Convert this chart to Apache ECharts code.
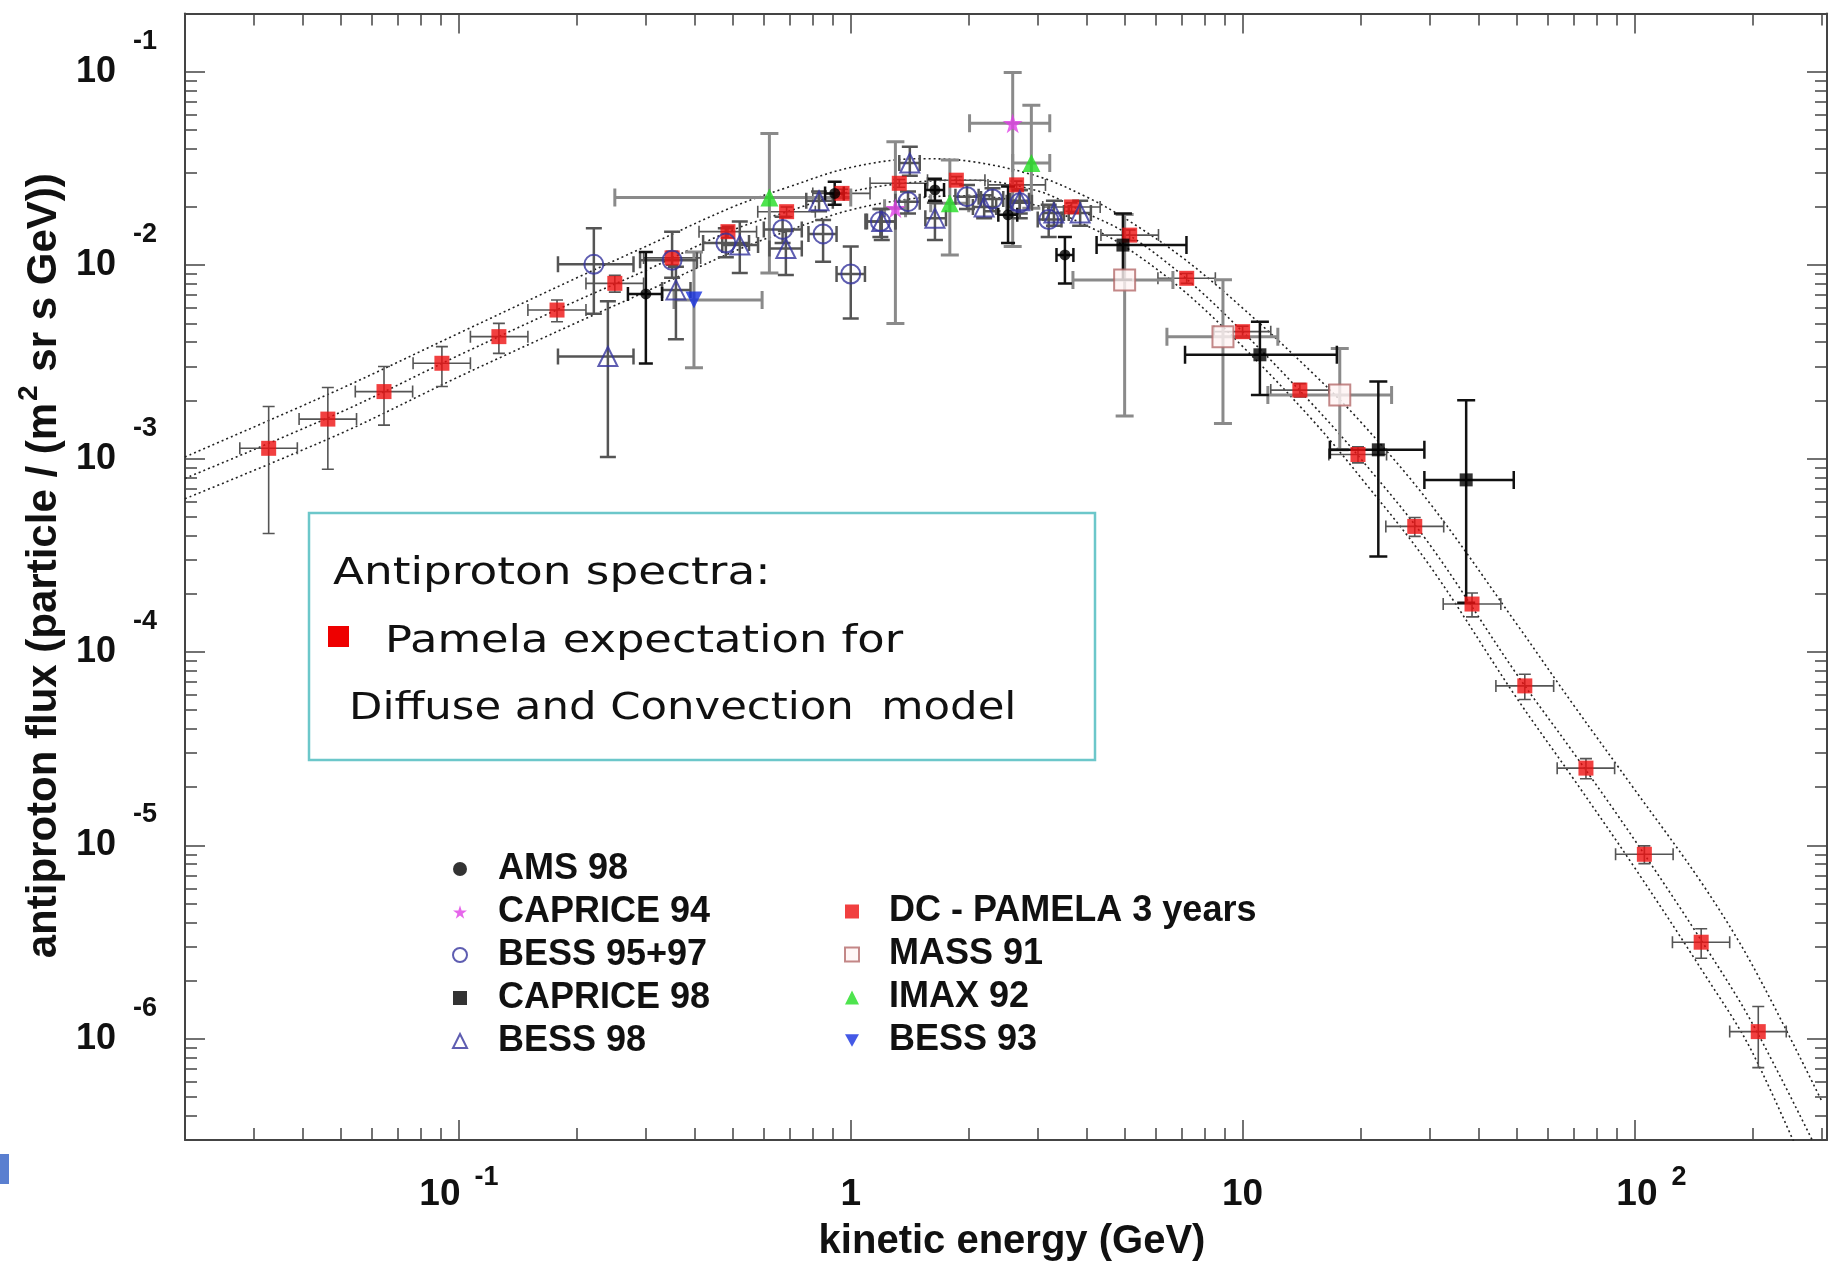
<!DOCTYPE html>
<html>
<head>
<meta charset="utf-8">
<script src="https://cdn.jsdelivr.net/npm/echarts@6/dist/echarts.min.js"></script>
<style>
html,body{margin:0;padding:0;background:#ffffff;}
#chart{width:1839px;height:1263px;}
</style>
</head>
<body>
<div id="chart"></div>
<script>
// ---------------- DATA ----------------
// rows: [E, flux, E_low, E_high, flux_low, flux_high]
const pamela = [
  [0.0327, 1.13e-3, 0.0276, 0.0387, 4.1e-4, 1.86e-3],
  [0.0463, 1.60e-3, 0.0391, 0.0548, 8.8e-4, 2.33e-3],
  [0.0644, 2.22e-3, 0.0544, 0.0762, 1.49e-3, 2.99e-3],
  [0.0905, 3.11e-3, 0.0764, 0.107, 2.36e-3, 3.79e-3],
  [0.1265, 4.27e-3, 0.107, 0.150, 3.5e-3, 5.0e-3],
  [0.178, 5.86e-3, 0.150, 0.211, 5.1e-3, 6.6e-3],
  [0.250, 8.05e-3, 0.211, 0.296, 7.25e-3, 8.85e-3],
  [0.350, 1.09e-2, 0.296, 0.414, 1.0e-2, 1.18e-2],
  [0.486, 1.49e-2, 0.410, 0.575, 1.39e-2, 1.59e-2],
  [0.686, 1.89e-2, 0.579, 0.812, 1.78e-2, 2.0e-2],
  [0.95, 2.35e-2, 0.80, 1.12, 2.23e-2, 2.47e-2],
  [1.33, 2.65e-2, 1.12, 1.57, 2.53e-2, 2.77e-2],
  [1.86, 2.75e-2, 1.57, 2.20, 2.63e-2, 2.87e-2],
  [2.65, 2.60e-2, 2.24, 3.14, 2.48e-2, 2.72e-2],
  [3.66, 2.00e-2, 3.09, 4.33, 1.90e-2, 2.10e-2],
  [5.15, 1.43e-2, 4.35, 6.10, 1.34e-2, 1.52e-2],
  [7.2, 8.55e-3, 6.08, 8.52, 8.05e-3, 9.05e-3],
  [10.0, 4.53e-3, 8.45, 11.8, 4.23e-3, 4.83e-3],
  [14.0, 2.26e-3, 11.8, 16.6, 2.08e-3, 2.44e-3],
  [19.7, 1.05e-3, 16.6, 23.3, 9.5e-4, 1.15e-3],
  [27.5, 4.46e-4, 23.2, 32.6, 3.96e-4, 4.96e-4],
  [38.5, 1.77e-4, 32.5, 45.6, 1.52e-4, 2.02e-4],
  [52.5, 6.68e-5, 44.3, 62.2, 5.68e-5, 7.68e-5],
  [75.2, 2.51e-5, 63.5, 89.0, 2.21e-5, 2.81e-5],
  [106, 9.0e-6, 89.5, 125.5, 8.05e-6, 9.95e-6],
  [148, 3.16e-6, 125, 175, 2.61e-6, 3.71e-6],
  [207, 1.09e-6, 175, 244, 7.1e-7, 1.47e-6]
];
const ams98 = [
  [0.30, 7.1e-3, 0.27, 0.33, 3.1e-3, 1.17e-2],
  [0.91, 2.35e-2, 0.86, 0.96, 2.05e-2, 2.7e-2],
  [1.64, 2.45e-2, 1.55, 1.73, 2.15e-2, 2.8e-2],
  [2.52, 1.82e-2, 2.38, 2.66, 1.3e-2, 2.55e-2],
  [3.52, 1.13e-2, 3.35, 3.7, 8.05e-3, 1.4e-2]
];
const caprice94 = [
  [1.30, 1.97e-2, 1.22, 1.38, 5.0e-3, 4.35e-2],
  [2.59, 5.41e-2, 2.01, 3.22, 1.25e-2, 9.9e-2]
];
const bess9597 = [
  [0.221, 1.01e-2, 0.179, 0.279, 5.6e-3, 1.55e-2],
  [0.35, 1.06e-2, 0.29, 0.405, 8.6e-3, 1.49e-2],
  [0.48, 1.30e-2, 0.42, 0.55, 1.1e-2, 1.55e-2],
  [0.67, 1.53e-2, 0.6, 0.75, 1.3e-2, 1.78e-2],
  [0.85, 1.45e-2, 0.78, 0.92, 1.04e-2, 1.71e-2],
  [1.0, 9.0e-3, 0.92, 1.087, 5.3e-3, 1.25e-2],
  [1.19, 1.68e-2, 1.09, 1.3, 1.4e-2, 1.95e-2],
  [1.40, 2.13e-2, 1.3, 1.5, 1.85e-2, 2.4e-2],
  [1.98, 2.26e-2, 1.85, 2.12, 1.95e-2, 2.6e-2],
  [2.3, 2.2e-2, 2.15, 2.45, 1.9e-2, 2.5e-2],
  [2.7, 2.1e-2, 2.5, 2.9, 1.75e-2, 2.45e-2],
  [3.2, 1.72e-2, 3.0, 3.45, 1.4e-2, 2.05e-2]
];
const caprice98 = [
  [4.95, 1.27e-2, 4.24, 7.19, 8.4e-3, 1.85e-2],
  [11.07, 3.44e-3, 7.13, 17.4, 2.13e-3, 5.1e-3],
  [22.2, 1.11e-3, 16.7, 29.1, 3.12e-4, 2.5e-3],
  [37.2, 7.76e-4, 29.1, 49.2, 1.8e-4, 2.0e-3]
];
const bess98 = [
  [0.240, 3.37e-3, 0.179, 0.279, 1.02e-3, 6.5e-3],
  [0.358, 7.45e-3, 0.33, 0.39, 4.14e-3, 9.8e-3],
  [0.521, 1.27e-2, 0.47, 0.58, 9.1e-3, 1.68e-2],
  [0.683, 1.22e-2, 0.62, 0.75, 8.9e-3, 1.5e-2],
  [0.83, 2.15e-2, 0.77, 0.9, 1.9e-2, 2.4e-2],
  [1.20, 1.68e-2, 1.1, 1.3, 1.35e-2, 1.95e-2],
  [1.415, 3.37e-2, 1.33, 1.5, 2.9e-2, 4.1e-2],
  [1.64, 1.75e-2, 1.55, 1.75, 1.35e-2, 2.1e-2],
  [2.19, 2.0e-2, 2.05, 2.35, 1.75e-2, 2.3e-2],
  [2.7, 2.15e-2, 2.55, 2.85, 1.85e-2, 2.45e-2],
  [3.3, 1.86e-2, 3.1, 3.5, 1.6e-2, 2.15e-2],
  [3.85, 1.86e-2, 3.6, 4.1, 1.6e-2, 2.15e-2]
];
const mass91 = [
  [5.0, 8.37e-3, 3.69, 6.64, 1.66e-3, 1.83e-2],
  [8.91, 4.27e-3, 6.41, 12.3, 1.52e-3, 8.4e-3],
  [17.7, 2.13e-3, 11.6, 24.0, 1.11e-3, 3.71e-3]
];
const imax92 = [
  [0.62, 2.24e-2, 0.25, 1.0, 9.1e-3, 4.8e-2],
  [1.79, 2.09e-2, 1.6, 2.0, 1.13e-2, 3.5e-2],
  [2.89, 3.37e-2, 2.59, 3.22, 1.97e-2, 6.7e-2]
];
const bess93 = [
  [0.398, 6.6e-3, 0.354, 0.594, 2.95e-3, 1.17e-2]
];
// model band (dotted curves)
const modelE     = [0.02, 0.05, 0.1, 0.2, 0.3, 0.5, 0.7, 1.0, 1.5, 2.0, 3.0, 4.0, 5.0, 7.0, 10, 15, 20, 30, 50, 70, 100, 150, 200, 300];
const modelUpper = [1.02e-3, 2.3e-3, 4.45e-3, 8.6e-3, 1.25e-2, 2.0e-2, 2.55e-2, 3.2e-2, 3.55e-2, 3.45e-2, 2.88e-2, 2.25e-2, 1.75e-2, 1.1e-2, 6.0e-3, 2.8e-3, 1.55e-3, 5.9e-4, 1.4e-4, 5.3e-5, 1.95e-5, 6.2e-6, 2.4e-6, 4.8e-7];
const modelMid   = [7.9e-4, 1.74e-3, 3.42e-3, 6.55e-3, 9.4e-3, 1.52e-2, 1.91e-2, 2.4e-2, 2.7e-2, 2.75e-2, 2.42e-2, 1.85e-2, 1.48e-2, 8.9e-3, 4.53e-3, 1.93e-3, 1.0e-3, 3.6e-4, 7.7e-5, 3.0e-5, 1.07e-5, 3.1e-6, 1.2e-6, 2.4e-7];
const modelLow   = [6.2e-4, 1.35e-3, 2.65e-3, 5.05e-3, 7.3e-3, 1.17e-2, 1.52e-2, 1.93e-2, 2.23e-2, 2.28e-2, 2.03e-2, 1.6e-2, 1.25e-2, 7.5e-3, 3.8e-3, 1.6e-3, 8.0e-4, 2.8e-4, 5.8e-5, 2.2e-5, 7.7e-6, 2.2e-6, 8.5e-7, 1.37e-7];

// axis ticks / labels
const xTickValues = [0.1, 1, 10, 100];
const xTickBase   = ['10', '1', '10', '10'];
const xTickExp    = ['-1', '', '', '2'];
const yTickValues = [1e-6, 1e-5, 1e-4, 1e-3, 1e-2, 1e-1];
const yTickBase   = ['10', '10', '10', '10', '10', '10'];
const yTickExp    = ['-6', '-5', '-4', '-3', '-2', '-1'];

// ---------------- helpers ----------------
function minorTicks(lo, hi) {
  const out = [];
  for (let d = Math.floor(Math.log10(lo)); d <= Math.ceil(Math.log10(hi)); d++) {
    for (let m = 2; m <= 9; m++) {
      const v = +(m * Math.pow(10, d)).toPrecision(6);
      if (v >= lo * 0.999 && v <= hi * 1.001) out.push(v);
    }
  }
  return out;
}
const X_MIN = 0.02, X_MAX = 310, Y_MIN = 3e-7, Y_MAX = 0.2;
const xMinor = minorTicks(X_MIN, X_MAX);
const yMinor = minorTicks(Y_MIN, Y_MAX);
function findIdx(arr, v) {
  return arr.findIndex(t => Math.abs(Math.log10(t) - Math.log10(v)) < 1e-6);
}
const FONT = '"Liberation Sans", Arial, Helvetica, sans-serif';
const AX = '#444444';

function xAxisDef(position, major, withLabels) {
  return {
    type: 'log', logBase: 10, min: X_MIN, max: X_MAX, position: position, gridIndex: 0,
    axisLine: { show: major, onZero: false, lineStyle: { color: AX, width: 2 } },
    axisTick: { show: true, inside: true, length: major ? 20 : 12, customValues: major ? xTickValues : xMinor,
                lineStyle: { color: AX, width: 1.5 } },
    minorTick: { show: false }, splitLine: { show: false },
    axisLabel: withLabels ? {
      show: true, customValues: xTickValues, margin: 24,
      formatter: function (v) {
        const i = findIdx(xTickValues, v);
        if (i < 0) return '';
        if (!xTickExp[i]) return '{b|' + xTickBase[i] + '}';
        const bKey = xTickValues[i] >= 100 ? 'bp' : 'b';
        return '{' + bKey + '|' + xTickBase[i] + '}{s|' + xTickExp[i] + '}';
      },
      rich: {
        b: { fontSize: 37, fontWeight: 'bold', fontFamily: FONT, color: '#111', lineHeight: 61, verticalAlign: 'middle' },
        bp: { fontSize: 37, fontWeight: 'bold', fontFamily: FONT, color: '#111', lineHeight: 61, verticalAlign: 'middle', padding: [0, 0, 0, 34] },
        s: { fontSize: 27, fontWeight: 'bold', fontFamily: FONT, color: '#111', lineHeight: 27, verticalAlign: 'top', padding: [0, 0, 0, 14] }
      }
    } : { show: false },
    name: withLabels ? 'kinetic energy (GeV)' : '',
    nameLocation: 'middle', nameGap: 82,
    nameTextStyle: { fontSize: 40, fontWeight: 'bold', fontFamily: FONT, color: '#111', padding: [0, 0, 0, 12] }
  };
}
function yAxisDef(position, major, withLabels) {
  return {
    type: 'log', logBase: 10, min: Y_MIN, max: Y_MAX, position: position, gridIndex: 0,
    axisLine: { show: major, onZero: false, lineStyle: { color: AX, width: 2 } },
    axisTick: { show: true, inside: true, length: major ? 20 : 12, customValues: major ? yTickValues : yMinor,
                lineStyle: { color: AX, width: 1.5 } },
    minorTick: { show: false }, splitLine: { show: false },
    axisLabel: withLabels ? {
      show: true, customValues: yTickValues, margin: 28,
      formatter: function (v) {
        const i = findIdx(yTickValues, v);
        if (i < 0) return '';
        return '{b|' + yTickBase[i] + '}{s|' + yTickExp[i] + '}';
      },
      rich: {
        b: { fontSize: 36, fontWeight: 'bold', fontFamily: FONT, color: '#111', lineHeight: 88, verticalAlign: 'middle' },
        s: { fontSize: 27, fontWeight: 'bold', fontFamily: FONT, color: '#111', lineHeight: 27, verticalAlign: 'top', padding: [0, 0, 0, 17] }
      }
    } : { show: false },
    name: withLabels ? '{t|antiproton flux (particle / (m}{s|2}{t| sr s GeV))}' : '',
    nameLocation: 'middle', nameGap: 118,
    nameTextStyle: {
      padding: [0, 0, 0, 22],
      rich: {
        t: { fontSize: 42, fontWeight: 'bold', fontFamily: FONT, color: '#111', lineHeight: 50, verticalAlign: 'bottom' },
        s: { fontSize: 28, fontWeight: 'bold', fontFamily: FONT, color: '#111', lineHeight: 28, verticalAlign: 'top', padding: [0, 2, 0, 2] }
      }
    }
  };
}

function errorBars(rows, color, width, cap, z) {
  return {
    type: 'custom', silent: true, z: z, clip: true,
    xAxisIndex: 0, yAxisIndex: 0,
    data: rows.map(r => r.slice()),
    encode: { x: [0, 2, 3], y: [1, 4, 5] },
    renderItem: function (params, api) {
      const x = api.value(0), y = api.value(1);
      const pL = api.coord([api.value(2), y]), pR = api.coord([api.value(3), y]);
      const pB = api.coord([x, api.value(4)]), pT = api.coord([x, api.value(5)]);
      const st = { stroke: color, lineWidth: width, fill: null };
      const seg = (x1, y1, x2, y2) => ({ type: 'line', shape: { x1, y1, x2, y2 }, style: st });
      return {
        type: 'group',
        children: [
          seg(pL[0], pL[1], pR[0], pR[1]),
          seg(pL[0], pL[1] - cap, pL[0], pL[1] + cap),
          seg(pR[0], pR[1] - cap, pR[0], pR[1] + cap),
          seg(pB[0], pB[1], pT[0], pT[1]),
          seg(pB[0] - cap, pB[1], pB[0] + cap, pB[1]),
          seg(pT[0] - cap, pT[1], pT[0] + cap, pT[1])
        ]
      };
    }
  };
}
function points(name, rows, symbol, size, itemStyle, z) {
  return {
    type: 'scatter', name: name, z: z, xAxisIndex: 0, yAxisIndex: 0,
    data: rows.map(r => [r[0], r[1]]),
    symbol: symbol, symbolSize: size, itemStyle: itemStyle,
    emphasis: { disabled: true }
  };
}
function curve(ys) {
  return {
    type: 'line', z: 1, xAxisIndex: 0, yAxisIndex: 0, silent: true,
    data: modelE.map((e, i) => [e, ys[i]]),
    showSymbol: false, symbol: 'none', smooth: 0.35, clip: true,
    lineStyle: { color: '#222', width: 1.6, type: [2, 3] }
  };
}
const STAR = 'path://M50,0 L61,35 L98,35 L68,57 L79,91 L50,70 L21,91 L32,57 L2,35 L39,35 Z';
const TRI_DOWN = 'path://M0,0 L100,0 L50,90 Z';
const BLUE = '#36359e';

const option = {
  animation: false,
  backgroundColor: '#ffffff',
  grid: { left: 185, right: 12, top: 13.5, bottom: 123, containLabel: false, outerBoundsMode: 'none' },
  xAxis: [xAxisDef('bottom', true, true), xAxisDef('bottom', false, false), xAxisDef('top', true, false), xAxisDef('top', false, false)],
  yAxis: [yAxisDef('left', true, true), yAxisDef('left', false, false), yAxisDef('right', true, false), yAxisDef('right', false, false)],
  legend: [
    {
      orient: 'vertical', left: 452, top: 851, padding: 0, itemGap: 7, itemWidth: 14, itemHeight: 14,
      selectedMode: false,
      data: ['AMS 98', 'CAPRICE 94', 'BESS 95+97', 'CAPRICE 98', 'BESS 98'],
      textStyle: { fontSize: 36, fontWeight: 'bold', fontFamily: FONT, color: '#111', lineHeight: 36, padding: [0, 0, 0, 26] }
    },
    {
      orient: 'vertical', left: 844, top: 893.5, padding: 0, itemGap: 7, itemWidth: 14, itemHeight: 14,
      selectedMode: false,
      data: ['DC - PAMELA 3 years', 'MASS 91', 'IMAX 92', 'BESS 93'],
      textStyle: { fontSize: 36, fontWeight: 'bold', fontFamily: FONT, color: '#111', lineHeight: 36, padding: [0, 0, 0, 25] }
    }
  ],
  graphic: [
    { type: 'rect', z: 100, shape: { x: 309, y: 513, width: 786, height: 247 },
      style: { fill: '#ffffff', stroke: '#6cc7ca', lineWidth: 2.5 } },
    { type: 'text', z: 101, x: 333, y: 574, scaleX: 1.225,
      style: { text: 'Antiproton spectra:', font: '37px "DejaVu Sans"', fill: '#111', verticalAlign: 'middle' } },
    { type: 'rect', z: 101, shape: { x: 328, y: 626, width: 21, height: 21 }, style: { fill: '#ee0000' } },
    { type: 'text', z: 101, x: 385, y: 642, scaleX: 1.21,
      style: { text: 'Pamela expectation for', font: '37px "DejaVu Sans"', fill: '#111', verticalAlign: 'middle' } },
    { type: 'text', z: 101, x: 349, y: 709, scaleX: 1.172,
      style: { text: 'Diffuse and Convection  model', font: '37px "DejaVu Sans"', fill: '#111', verticalAlign: 'middle' } },
    { type: 'rect', z: 100, shape: { x: 0, y: 1154, width: 9, height: 30 }, style: { fill: '#5a7fd0' } }
  ],
  series: [
    curve(modelUpper), curve(modelMid), curve(modelLow),
    errorBars(pamela, '#555555', 1.6, 6, 2),
    errorBars(mass91, '#8a8a8a', 3, 9, 2),
    errorBars(imax92, '#8a8a8a', 3, 9, 2),
    errorBars(caprice94, '#8a8a8a', 3, 9, 2),
    errorBars(bess93, '#8a8a8a', 3, 9, 2),
    errorBars(bess9597, '#555555', 2.5, 8, 2),
    errorBars(bess98, '#555555', 2.5, 8, 2),
    errorBars(ams98, '#111111', 2.5, 7, 3),
    errorBars(caprice98, '#111111', 2.5, 9, 3),
    points('DC - PAMELA 3 years', pamela, 'rect', 15, { color: '#ee1010' }, 4),
    points('MASS 91', mass91, 'rect', 21, { color: '#fff4f4', borderColor: '#b46a6a', borderWidth: 2 }, 5),
    points('IMAX 92', imax92, 'triangle', 18, { color: '#22dd22' }, 5),
    points('CAPRICE 94', caprice94, STAR, 20, { color: '#e040e6' }, 6),
    points('BESS 93', bess93, TRI_DOWN, 17, { color: '#1530e0' }, 5),
    points('BESS 95+97', bess9597, 'circle', 19, { color: 'rgba(255,255,255,0)', borderColor: BLUE, borderWidth: 2 }, 6),
    points('BESS 98', bess98, 'triangle', 19, { color: 'rgba(255,255,255,0)', borderColor: BLUE, borderWidth: 2 }, 6),
    points('AMS 98', ams98, 'circle', 11, { color: '#000' }, 7),
    points('CAPRICE 98', caprice98, 'rect', 13, { color: '#000' }, 7)
  ]
};
const chart = echarts.init(document.getElementById('chart'), null, { renderer: 'canvas' });
chart.setOption(option);
</script>
</body>
</html>
